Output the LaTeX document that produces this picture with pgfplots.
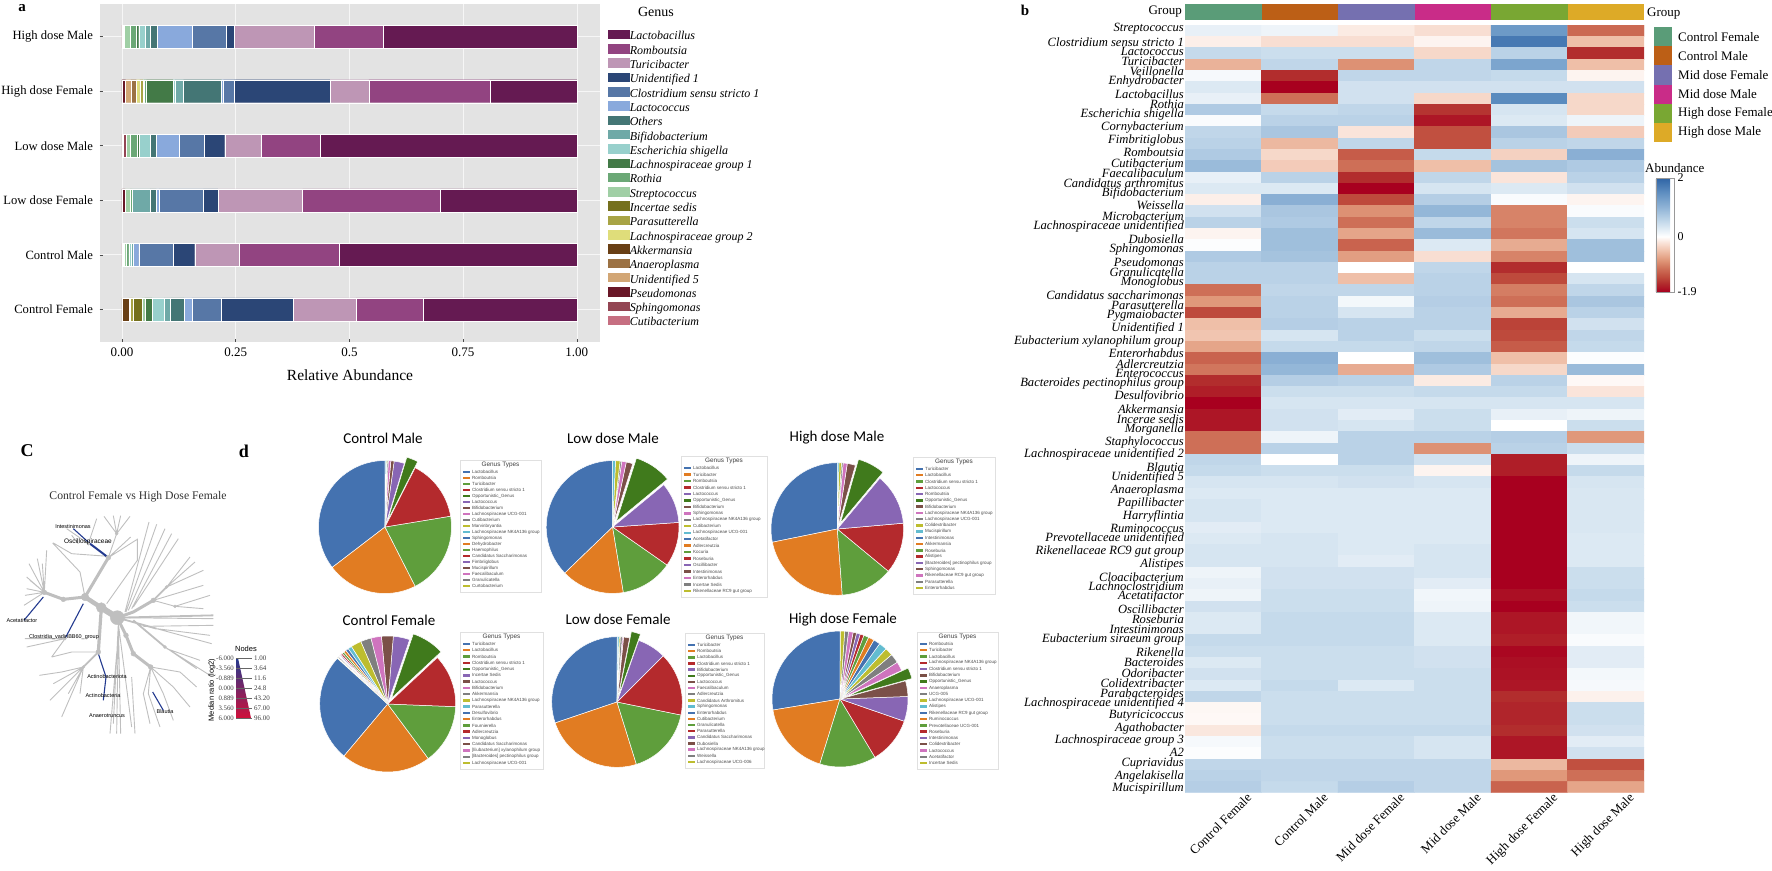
\documentclass[border=0pt]{standalone}
\usepackage{fontspec}
\setmainfont{Liberation Serif}
\newfontfamily\sansf{Liberation Sans}
\newfontfamily\calf{Carlito}
\usepackage{pgfplots}
\usepackage{pgfplotstable}
\pgfplotsset{compat=1.18}
\newcommand\fs[1]{\fontsize{#1}{#1}\selectfont}
\newcommand\N[4][]{\node[inner sep=0pt,#1] at (#2pt,-#3pt) {#4};}
% panel a colours
\definecolor{cLtb}{HTML}{651A52}\definecolor{cRom}{HTML}{924481}\definecolor{cTur}{HTML}{BE96B5}
\definecolor{cUn1}{HTML}{2B4676}\definecolor{cClo}{HTML}{5777A6}\definecolor{cLcc}{HTML}{89A9DC}
\definecolor{cOth}{HTML}{447675}\definecolor{cBif}{HTML}{6FA9A7}\definecolor{cEsc}{HTML}{98D0CC}
\definecolor{cLa1}{HTML}{437A47}\definecolor{cRot}{HTML}{6BA876}\definecolor{cStr}{HTML}{A0CFA5}
\definecolor{cInc}{HTML}{75701D}\definecolor{cPar}{HTML}{A8A445}\definecolor{cLa2}{HTML}{DFDD7A}
\definecolor{cAkk}{HTML}{693F15}\definecolor{cAna}{HTML}{9C7244}\definecolor{cUn5}{HTML}{D2A675}
\definecolor{cPse}{HTML}{691727}\definecolor{cSph}{HTML}{934553}\definecolor{cCut}{HTML}{C66F81}
% group colours
\definecolor{g1}{HTML}{5A9C78}\definecolor{g2}{HTML}{BC5F16}\definecolor{g3}{HTML}{7570B0}
\definecolor{g4}{HTML}{C92C88}\definecolor{g5}{HTML}{79A733}\definecolor{g6}{HTML}{DDAA27}
% pie colours
\definecolor{tA}{HTML}{4472B0}\definecolor{tB}{HTML}{E17C22}\definecolor{tC}{HTML}{5F9E3C}
\definecolor{tD}{HTML}{B42A2D}\definecolor{tE}{HTML}{8866B4}\definecolor{tF}{HTML}{7B5048}
\definecolor{tG}{HTML}{CF74BE}\definecolor{tH}{HTML}{7F7F7F}\definecolor{tI}{HTML}{BDBD2F}
\definecolor{tJ}{HTML}{62BCD0}\definecolor{dg}{HTML}{407A1C}
\definecolor{trg}{HTML}{BFBFBF}\definecolor{trb}{HTML}{233A8F}\definecolor{wr}{HTML}{D0103A}

\pgfplotstableread{
pos Cut Sph Pse Un5 Ana Akk La2 Par Inc Str Rot La1 Esc Bif Oth Lcc Clo Un1 Tur Rom Ltb
0 0 0 0 0 .001 .014 .002 .008 .019 .006 0 .016 .027 .014 .029 .018 .065 .158 .138 .148 .337
1 .003 0 0 .002 0 0 0 0 0 .004 .006 .001 .004 .005 0 .012 .075 .048 .097 .221 .522
2 0 0 .007 0 0 0 0 0 0 .011 .004 0 0 .04 .014 .006 .097 .032 .186 .303 .30
3 .003 .007 0 0 0 0 0 0 0 .009 .014 .005 .024 0 .014 .05 .055 .045 .079 .131 .564
4 0 0 .008 .012 .012 0 .007 .007 0 .003 .005 .058 .005 .018 .084 .004 .024 .21 .086 .266 .191
5 .001 0 0 .002 0 0 .001 0 0 .015 .012 .006 .014 .012 .015 .076 .076 .016 .176 .153 .425
}\barsA

\newcommand\SA[2]{\addplot[fill=#2,draw=white,line width=.2pt] table[x=#1,y=pos] {\barsA};}

% one pie: cx cy r startangle list(value%/colour/explode)
\newcommand{\PIE}[5]{%
\begin{axis}[at={(#1pt,-#2pt)},anchor=center,scale only axis,width=2.6*#3pt,height=2.6*#3pt,
  hide axis,xmin=-1.3,xmax=1.3,ymin=-1.3,ymax=1.3,clip=false]
\xdef\curang{#4}%
\foreach \pv/\pc/\pe in {#5}{%
  \pgfmathsetmacro\pend{\curang+3.6*\pv}%
  \pgfmathsetmacro\pmid{(\curang+\pend)/2}%
  \pgfmathsetmacro\ppx{\pe*0.1*cos(\pmid)}%
  \pgfmathsetmacro\ppy{\pe*0.1*sin(\pmid)}%
  \xdef\pts{(\ppx,\ppy)}%
  \pgfmathtruncatemacro\nseg{max(1,ceil(3.6*\pv/4))}%
  \foreach \pk in {0,...,\nseg}{%
    \pgfmathsetmacro\pang{\curang+(\pend-\curang)*\pk/\nseg}%
    \pgfmathsetmacro\qx{\ppx+cos(\pang)}%
    \pgfmathsetmacro\qy{\ppy+sin(\pang)}%
    \xdef\pts{\pts(\qx,\qy)}%
  }%
  \edef\temp{\noexpand\addplot[fill=\pc,draw=white,line width=0.5pt,forget plot] coordinates {\pts(\ppx,\ppy)};}\temp
  \xdef\curang{\pend}%
}
\end{axis}}

% pie legend key box
\newcommand{\LEG}[5]{%
\draw[black!12,fill=white,line width=.5pt] (#1pt,-#2pt) rectangle ++(#3pt,-#4pt);
\pgfmathsetmacro\lcx{#1+#3/2}\pgfmathsetmacro\lty{#2+5}
\node[inner sep=0pt,font=\sansf\fs{6.4},text=black!75] at (\lcx pt,-\lty pt) {Genus Types};
\pgfmathsetmacro\lstep{(#4-18)/19}
\foreach \lc/\ln [count=\li from 0] in {#5}{%
  \pgfmathsetmacro\ly{#2+12+\li*\lstep}%
  \pgfmathsetmacro\lxa{#1+2.5}\pgfmathsetmacro\lxb{#1+9.5}\pgfmathsetmacro\lxc{#1+12}%
  \fill[\lc] (\lxa pt,-\ly pt-1.2pt) rectangle (\lxb pt,-\ly pt+1.2pt);
  \node[anchor=west,inner sep=0pt,font=\sansf\fs{4.5},text=black!70] at (\lxc pt,-\ly pt) {\ln};
}}

\begin{document}
\begin{tikzpicture}
\path[use as bounding box] (0pt,0pt) rectangle (1772pt,-870pt);

%%%%%%%%%%%%%%%% panel a
\begin{axis}[at={(99.6pt,-4pt)},anchor=north west,scale only axis,width=500pt,height=338pt,
  xbar stacked,bar width=23pt,
  xmin=-0.049,xmax=1.05,ymin=-0.6,ymax=5.6,
  axis line style={draw=none},axis background/.style={fill=black!11},
  grid=major,grid style={white!40!black!6,line width=.6pt},
  tick style={black!70,line width=.5pt},
  major tick length=3pt,tick pos=left,
  xtick={0,.25,.5,.75,1},xticklabels={0.00,0.25,0.5,0.75,1.00},
  ytick={0,1,2,3,4,5},
  yticklabels={Control Female,Control Male,Low dose Female,Low dose Male,High dose Female,High dose Male},
  xticklabel style={font=\fs{13},yshift=-2pt},
  yticklabel style={font=\fs{12.6},xshift=-3pt},
  reverse legend,
  legend image code/.code={\path[#1] (0pt,-2.5pt) rectangle (23pt,8pt);},
  legend cell align=left,
  legend style={at={(1.014,0.9265)},anchor=north west,draw=none,fill=none,
    font=\fs{12}\itshape,inner sep=0pt,outer sep=0pt,
    nodes={inner sep=0pt,text height=9pt,text depth=3pt},row sep=0.2pt,
    /tikz/every even column/.append style={column sep=2pt}},
]
\SA{Cut}{cCut}\SA{Sph}{cSph}\SA{Pse}{cPse}\SA{Un5}{cUn5}\SA{Ana}{cAna}\SA{Akk}{cAkk}\SA{La2}{cLa2}
\SA{Par}{cPar}\SA{Inc}{cInc}\SA{Str}{cStr}\SA{Rot}{cRot}\SA{La1}{cLa1}\SA{Esc}{cEsc}\SA{Bif}{cBif}
\SA{Oth}{cOth}\SA{Lcc}{cLcc}\SA{Clo}{cClo}\SA{Un1}{cUn1}\SA{Tur}{cTur}\SA{Rom}{cRom}\SA{Ltb}{cLtb}
\legend{Cutibacterium,Sphingomonas,Pseudomonas,Unidentified 5,Anaeroplasma,Akkermansia,Lachnospiraceae group 2,Parasutterella,Incertae sedis,Streptococcus,Rothia,Lachnospiraceae group 1,Escherichia shigella,Bifidobacterium,Others,Lactococcus,Clostridium sensu stricto 1,Unidentified 1,Turicibacter,Romboutsia,Lactobacillus}
\end{axis}
\N{22}{8}{\fs{15}\bfseries a}
\N{656}{12}{\fs{14}Genus}
\N{350}{375}{\fs{15.5}Relative Abundance}

%%%%%%%%%%%%%%%% panel b: group strip
\begin{axis}[at={(1185pt,-4pt)},anchor=north west,scale only axis,width=459pt,height=16pt,
  hide axis,xmin=0,xmax=6,ymin=0,ymax=1]
\addplot[fill=g1,draw=none] coordinates {(0,0)(1,0)(1,1)(0,1)};
\addplot[fill=g2,draw=none] coordinates {(1,0)(2,0)(2,1)(1,1)};
\addplot[fill=g3,draw=none] coordinates {(2,0)(3,0)(3,1)(2,1)};
\addplot[fill=g4,draw=none] coordinates {(3,0)(4,0)(4,1)(3,1)};
\addplot[fill=g5,draw=none] coordinates {(4,0)(5,0)(5,1)(4,1)};
\addplot[fill=g6,draw=none] coordinates {(5,0)(6,0)(6,1)(5,1)};
\end{axis}
\N[anchor=east]{1182}{12}{\fs{13}Group}
\N[anchor=west]{1647}{14}{\fs{13}Group}
\N{1025}{10}{\fs{15}\bfseries b}

%%%%%%%%%%%%%%%% panel b: heatmap
\begin{axis}[at={(1185pt,-25pt)},anchor=north west,scale only axis,width=459pt,height=767.7pt,
  xmin=-.5,xmax=5.5,ymin=.5,ymax=68.5,y dir=reverse,
  axis line style={draw=none},major tick length=0pt,
  enlargelimits=false,
  xtick={0,1,2,3,4,5},
  xticklabels={Control Female,Control Male,Mid dose Female,Mid dose Male,High dose Female,High dose Male},
  xticklabel style={font=\fs{13},rotate=45,anchor=north east,xshift=20pt,yshift=-12pt},
  ytick={.85,1.98,2.80,3.72,4.60,5.52,6.64,7.52,8.45,9.56,10.69,11.81,12.72,13.61,14.53,15.44,16.50,17.44,18.37,19.45,20.37,21.50,22.41,23.33,24.44,25.36,26.25,27.36,28.52,29.61,30.53,31.35,32.24,33.39,34.51,35.42,36.31,37.44,38.53,39.66,40.56,41.71,42.84,43.99,45.08,46.00,47.12,48.24,49.37,50.25,51.14,52.23,53.14,54.02,54.94,56.06,56.95,57.87,58.78,59.67,60.58,61.64,62.79,63.89,64.95,65.89,67.02,68.14},
  yticklabels={Streptococcus,Clostridium sensu stricto 1,Lactococcus,Turicibacter,Veillonella,Enhydrobacter,Lactobacillus,Rothia,Escherichia shigella,Cornybacterium,Fimbritiglobus,Romboutsia,Cutibacterium,Faecalibaculum,Candidatus arthromitus,Bifidobacterium,Weissella,Microbacterium,Lachnospiraceae unidentified,Dubosiella,Sphingomonas,Pseudomonas,Granulicatella,Monoglobus,Candidatus saccharimonas,Parasutterella,Pygmaiobacter,Unidentified 1,Eubacterium xylanophilum group,Enterorhabdus,Adlercreutzia,Enterococcus,Bacteroides pectinophilus group,Desulfovibrio,Akkermansia,Incerae sedis,Morganella,Staphylococcus,Lachnospiraceae unidentified 2,Blautia,Unidentified 5,Anaeroplasma,Papillibacter,Harryflintia,Ruminococcus,Prevotellaceae unidentified,Rikenellaceae RC9 gut group,Alistipes,Cloacibacterium,Lachnoclostridium,Acetatifactor,Oscillibacter,Roseburia,Intestinimonas,Eubacterium siraeum group,Rikenella,Bacteroides,Odoribacter,Colidextribacter,Parabacteroides,Lachnospiraceae unidentified 4,Butyricicoccus,Agathobacter,Lachnospiraceae group 3,A2,Cupriavidus,Angelakisella,Mucispirillum},
  yticklabel style={font=\fs{12.6}\itshape,inner sep=1pt},
  point meta min=-1.9,point meta max=2,
  colormap={rb}{rgb255(0pt)=(168,0,31) rgb255(3pt)=(178,45,45) rgb255(5pt)=(190,74,60) rgb255(8pt)=(206,111,87) rgb255(11pt)=(224,152,122) rgb255(14pt)=(239,191,168) rgb255(17pt)=(250,228,218) rgb255(19pt)=(255,255,255) rgb255(24pt)=(197,218,235) rgb255(29pt)=(143,179,214) rgb255(34pt)=(95,143,193) rgb255(39pt)=(47,100,165)},
  colorbar,
  colorbar style={at={(1.0261,0.8007)},anchor=north west,width=18pt,height=114pt,
    ytick={-1.9,0,2},yticklabels={-1.9,0,2},
    ticklabel style={font=\fs{12}},tick style={draw=none},axis line style={black!40,line width=.6pt},
    yticklabel pos=right},
]
\addplot[matrix plot*,mesh/cols=6,point meta=explicit] coordinates {
(0,1)[.2](1,1)[.15](2,1)[-.15](3,1)[-.25](4,1)[1.35](5,1)[-1.15]
(0,2)[-.12](1,2)[-.25](2,2)[-.25](3,2)[-.08](4,2)[1.75](5,2)[-.5]
(0,3)[.5](1,3)[.45](2,3)[.45](3,3)[-.3](4,3)[.6](5,3)[-1.6]
(0,4)[-.6](1,4)[.55](2,4)[-.85](3,4)[.55](4,4)[1.2](5,4)[-.5]
(0,5)[.08](1,5)[-1.6](2,5)[.55](3,5)[.55](4,5)[.5](5,5)[-.08]
(0,6)[.3](1,6)[-1.9](2,6)[.4](3,6)[.4](4,6)[.4](5,6)[.4]
(0,7)[.2](1,7)[-1.1](2,7)[.4](3,7)[-.3](4,7)[1.55](5,7)[-.3]
(0,8)[.7](1,8)[.5](2,8)[.55](3,8)[-1.55](4,8)[.35](5,8)[-.3]
(0,9)[.05](1,9)[.6](2,9)[.6](3,9)[-1.75](4,9)[.3](5,9)[.15]
(0,10)[.55](1,10)[.75](2,10)[-.2](3,10)[-1.35](4,10)[.75](5,10)[-.4]
(0,11)[.6](1,11)[-.55](2,11)[.55](3,11)[-1.35](4,11)[.6](5,11)[.55]
(0,12)[.7](1,12)[-.3](2,12)[-1.25](3,12)[.5](4,12)[-.35](5,12)[1.05]
(0,13)[.9](1,13)[-.4](2,13)[-1.1](3,13)[-.5](4,13)[.8](5,13)[.7]
(0,14)[.2](1,14)[.6](2,14)[-1.6](3,14)[.55](4,14)[-.2](5,14)[.6]
(0,15)[.3](1,15)[.3](2,15)[-1.9](3,15)[.35](4,15)[.3](5,15)[.4]
(0,16)[-.12](1,16)[1.05](2,16)[-1.4](3,16)[.65](4,16)[.05](5,16)[-.08]
(0,17)[.4](1,17)[.75](2,17)[-.85](3,17)[.95](4,17)[-.95](5,17)[.05]
(0,18)[.6](1,18)[.7](2,18)[-1.1](3,18)[.55](4,18)[-.95](5,18)[.45]
(0,19)[-.08](1,19)[.85](2,19)[-.7](3,19)[.9](4,19)[-1.05](5,19)[.35]
(0,20)[.03](1,20)[.85](2,20)[-1.2](3,20)[.3](4,20)[-.65](5,20)[.85]
(0,21)[.7](1,21)[.8](2,21)[-.75](3,21)[-.25](4,21)[-.95](5,21)[.85]
(0,22)[.6](1,22)[.6](2,22)[0](3,22)[.55](4,22)[-1.6](5,22)[0]
(0,23)[.6](1,23)[.6](2,23)[-.5](3,23)[.6](4,23)[-1.4](5,23)[.35]
(0,24)[-1.1](1,24)[.55](2,24)[.55](3,24)[.6](4,24)[-1](5,24)[.55]
(0,25)[-.8](1,25)[.6](2,25)[.1](3,25)[.65](4,25)[-1.1](5,25)[.75]
(0,26)[-1.4](1,26)[.6](2,26)[.35](3,26)[.6](4,26)[-.65](5,26)[.6]
(0,27)[-.5](1,27)[.65](2,27)[.6](3,27)[.6](4,27)[-1.45](5,27)[.4]
(0,28)[-.45](1,28)[.35](2,28)[.6](3,28)[.45](4,28)[-1.4](5,28)[.55]
(0,29)[-.7](1,29)[.5](2,29)[.5](3,29)[.55](4,29)[-1.25](5,29)[.5]
(0,30)[-1.2](1,30)[1.05](2,30)[0](3,30)[.85](4,30)[-.5](5,30)[.03]
(0,31)[-1.05](1,31)[.95](2,31)[-.65](3,31)[.7](4,31)[-.3](5,31)[.9]
(0,32)[-1.6](1,32)[.65](2,32)[.6](3,32)[-.15](4,32)[.6](5,32)[-.05]
(0,33)[-1.7](1,33)[.45](2,33)[.45](3,33)[.5](4,33)[.5](5,33)[-.2]
(0,34)[-1.9](1,34)[.35](2,34)[.35](3,34)[.35](4,34)[.35](5,34)[.35]
(0,35)[-1.75](1,35)[.4](2,35)[.25](3,35)[.45](4,35)[.2](5,35)[.15]
(0,36)[-1.75](1,36)[.4](2,36)[.35](3,36)[.45](4,36)[0](5,36)[.45]
(0,37)[-1.1](1,37)[.15](2,37)[.6](3,37)[.6](4,37)[.65](5,37)[-.8]
(0,38)[-1.1](1,38)[.6](2,38)[.6](3,38)[-.85](4,38)[.6](5,38)[.45]
(0,39)[.55](1,39)[0](2,39)[.6](3,39)[.4](4,39)[-1.7](5,39)[.15]
(0,40)[.5](1,40)[.45](2,40)[.45](3,40)[-.08](4,40)[-1.7](5,40)[.5]
(0,41)[.35](1,41)[.35](2,41)[.4](3,41)[.35](4,41)[-1.9](5,41)[.35]
(0,42)[.3](1,42)[.3](2,42)[.3](3,42)[.3](4,42)[-1.9](5,42)[.33]
(0,43)[.35](1,43)[.3](2,43)[.3](3,43)[.3](4,43)[-1.9](5,43)[.33]
(0,44)[.35](1,44)[.3](2,44)[.3](3,44)[.3](4,44)[-1.9](5,44)[.33]
(0,45)[.25](1,45)[.3](2,45)[.3](3,45)[.3](4,45)[-1.9](5,45)[.33]
(0,46)[.3](1,46)[.35](2,46)[.3](3,46)[.3](4,46)[-1.9](5,46)[.3]
(0,47)[.35](1,47)[.35](2,47)[.3](3,47)[.35](4,47)[-1.9](5,47)[.3]
(0,48)[.35](1,48)[.35](2,48)[.25](3,48)[.35](4,48)[-1.9](5,48)[.3]
(0,49)[.15](1,49)[.4](2,49)[.4](3,49)[.35](4,49)[-1.9](5,49)[.45]
(0,50)[.2](1,50)[.4](2,50)[.4](3,50)[.25](4,50)[-1.9](5,50)[.45]
(0,51)[.15](1,51)[.45](2,51)[.45](3,51)[.12](4,51)[-1.8](5,51)[.5]
(0,52)[.4](1,52)[.45](2,52)[.45](3,52)[.15](4,52)[-1.9](5,52)[.45]
(0,53)[.3](1,53)[.5](2,53)[.5](3,53)[.3](4,53)[-1.75](5,53)[.12]
(0,54)[.3](1,54)[.5](2,54)[.5](3,54)[.3](4,54)[-1.75](5,54)[.12]
(0,55)[.5](1,55)[.5](2,55)[.5](3,55)[.3](4,55)[-1.7](5,55)[.05]
(0,56)[.45](1,56)[.45](2,56)[.45](3,56)[.4](4,56)[-1.85](5,56)[.25]
(0,57)[.3](1,57)[.45](2,57)[.45](3,57)[.4](4,57)[-1.8](5,57)[.25]
(0,58)[.4](1,58)[.45](2,58)[.45](3,58)[.45](4,58)[-1.78](5,58)[.1]
(0,59)[.3](1,59)[.5](2,59)[.3](3,59)[.45](4,59)[-1.75](5,59)[.08]
(0,60)[.55](1,60)[.45](2,60)[.45](3,60)[.45](4,60)[-1.6](5,60)[-.1]
(0,61)[-.06](1,61)[.45](2,61)[.45](3,61)[.45](4,61)[-1.65](5,61)[.45]
(0,62)[-.05](1,62)[.45](2,62)[.45](3,62)[.45](4,62)[-1.65](5,62)[.45]
(0,63)[-.18](1,63)[.5](2,63)[.5](3,63)[.5](4,63)[-1.6](5,63)[.4]
(0,64)[.08](1,64)[.45](2,64)[.45](3,64)[.35](4,64)[-1.75](5,64)[.25]
(0,65)[.03](1,65)[.45](2,65)[.45](3,65)[.35](4,65)[-1.75](5,65)[.4]
(0,66)[.55](1,66)[.55](2,66)[.55](3,66)[.55](4,66)[-.55](5,66)[-1.35]
(0,67)[.6](1,67)[.55](2,67)[.55](3,67)[.55](4,67)[-.8](5,67)[-1.1]
(0,68)[.65](1,68)[.5](2,68)[.65](3,68)[.55](4,68)[-1.2](5,68)[-.7]
};
\end{axis}
% group key
\foreach \gc/\gn [count=\gi from 0] in {g1/Control Female,g2/Control Male,g3/Mid dose Female,g4/Mid dose Male,g5/High dose Female,g6/High dose Male}{%
  \pgfmathsetmacro\gy{27+\gi*19.2}\pgfmathsetmacro\gyy{\gy+19.2}\pgfmathsetmacro\gt{\gy+9.6}%
  \fill[\gc] (1654pt,-\gy pt) rectangle (1672pt,-\gyy pt);
  \node[anchor=west,inner sep=0pt,font=\fs{13}] at (1678pt,-\gt pt) {\gn};
}
\N[anchor=west]{1645}{168}{\fs{13}Abundance}

%%%%%%%%%%%%%%%% panel c tree
\N{27}{451}{\fs{18}\bfseries C}
\N{138}{497}{\fs{11.7}\color{black!80}Control Female vs High Dose Female}
\begin{axis}[at={(0pt,-487pt)},anchor=north west,scale only axis,width=280pt,height=266.67pt,
  hide axis,xmin=0,xmax=840,ymin=-100,ymax=700,y dir=reverse,clip=false,unbounded coords=jump]
% thick trunks
\addplot[trg,line width=6pt,forget plot] coordinates {(352,292)(304,262)};
\addplot[trg,line width=4.5pt,forget plot] coordinates {(304,262)(255,230)};
\addplot[trg,line width=3.2pt,forget plot] coordinates {(304,262)(295,395)};
\addplot[trg,line width=3pt,forget plot] coordinates {(255,230)(325,112) (nan,nan) (255,230)(190,237)(133,216) (nan,nan) (352,292)(378,345)(400,400)(452,440) (nan,nan) (352,292)(400,275)(460,240)};
\addplot[trg,line width=1.8pt,forget plot] coordinates {(295,395)(250,440) (nan,nan) (460,240)(500,200) (nan,nan) (352,292)(640,285) (nan,nan) (352,292)(470,325) (nan,nan) (400,300)(495,380)};
\addplot[trg,line width=.9pt,forget plot] coordinates {
(325,112)(350,40)(312,-12)(nan,nan)(350,40)(340,-14)(nan,nan)(350,40)(362,-14)(nan,nan)(350,40)(390,-12)(nan,nan)
(325,112)(392,50)(nan,nan)(325,112)(410,58)(nan,nan)(290,-5)(265,70)(200,25)(nan,nan)(215,45)(235,70)(nan,nan)(160,68)(215,100)(325,108)(nan,nan)
(255,230)(240,155)(158,68)(nan,nan)(320,250)(412,120)(412,55)(nan,nan)
(375,275)(447,5)(nan,nan)(378,275)(470,12)(nan,nan)(385,270)(495,25)(nan,nan)(395,265)(515,40)(nan,nan)(400,260)(535,55)(nan,nan)
(500,200)(570,110)(nan,nan)(500,200)(585,125)(nan,nan)(500,200)(610,150)(nan,nan)(460,240)(610,195)(nan,nan)(460,240)(525,258)(630,225)(nan,nan)(525,258)(610,265)(nan,nan)
(352,292)(640,295)(nan,nan)(430,318)(640,315)(nan,nan)(470,325)(635,370)(nan,nan)(470,325)(630,345)(nan,nan)(495,380)(630,465)(nan,nan)(495,380)(590,445)(nan,nan)(500,385)(600,420)(nan,nan)
(452,440)(540,455)(590,500)(nan,nan)(452,440)(520,500)(570,560)(nan,nan)(452,440)(490,520)(520,600)(nan,nan)(452,440)(430,520)(450,610)(nan,nan)(452,440)(445,520)(480,620)(nan,nan)
(133,216)(140,90)(nan,nan)(133,216)(127,130)(nan,nan)(133,216)(112,115)(nan,nan)(133,216)(87,130)(nan,nan)(133,216)(80,170)(nan,nan)(133,216)(90,180)(nan,nan)(133,216)(75,225)(nan,nan)(133,216)(72,255)(nan,nan)(133,216)(80,205)(nan,nan)
(195,355)(155,410)(nan,nan)(195,355)(75,355)(nan,nan)(195,355)(80,380)(nan,nan)
(295,395)(215,395)(155,410)(nan,nan)(250,440)(185,455)(118,465)(nan,nan)(250,440)(160,490)(nan,nan)(250,440)(205,520)(nan,nan)(250,440)(240,520)(nan,nan)(250,440)(150,540)(nan,nan)(250,440)(185,590)(nan,nan)
(355,310)(340,610)(nan,nan)(355,310)(350,640)(nan,nan)(355,310)(362,640)(nan,nan)(355,310)(395,620)(nan,nan)(350,400)(330,640)(nan,nan)(395,470)(405,640)(nan,nan)
};
% tree nodes
\addplot[only marks,mark=*,mark size=7pt,trg,forget plot] coordinates {(352,292)};
\addplot[only marks,mark=*,mark size=5pt,trg,forget plot] coordinates {(304,262)};
\addplot[only marks,mark=*,mark size=3.8pt,trg,forget plot] coordinates {(255,230)};
\addplot[only marks,mark=*,mark size=2.4pt,trg,forget plot] coordinates {(325,112)(133,216)(190,237)(295,395)(452,440)(400,400)(378,345)(460,240)};
\addplot[only marks,mark=*,mark size=1.5pt,trg,forget plot] coordinates {(500,200)(525,258)(495,380)(250,440)(350,40)(265,70)(195,355)};
% blue edges
\addplot[trb,line width=1.1pt,forget plot] coordinates {(220,25)(270,70)(nan,nan)(130,230)(72,300)(nan,nan)(250,250)(195,355)(nan,nan)(295,400)(318,470)(310,540)(nan,nan)(458,515)(490,570)};
\addplot[trb,line width=2pt,forget plot] coordinates {(270,70)(320,108)};
\end{axis}
\N{73}{527}{\sansf\fs{5.5}Intestinimonas}
\N{88}{542}{\sansf\fs{6.5}Oscillospiraceae}
\N{22}{621}{\sansf\fs{5.5}Acetatifactor}
\N{64}{637}{\sansf\fs{5.5}Clostridia\_vadinBB60\_group}
\N{107}{677}{\sansf\fs{5.5}Actinobacteriota}
\N{103}{696}{\sansf\fs{5.5}Actinobacteria}
\N{107}{716}{\sansf\fs{5.5}Anaerotruncus}
\N{165}{712}{\sansf\fs{5.5}Blautia}
% nodes legend
\N{246}{649}{\sansf\fs{7.5}Nodes}
\shade[top color=trb,middle color=black!25,bottom color=wr] (236pt,-658pt) -- (238pt,-658pt) -- (251pt,-718pt) -- (236pt,-718pt) -- cycle;
\foreach \ny/\nl/\nr in {658/-6.000/1.00,668/-3.560/3.64,678/-0.889/11.6,688/0.000/24.8,698/0.889/43.20,708/3.560/67.00,718/6.000/96.00}{%
  \draw[black!60,line width=.5pt] (236pt,-\ny pt) -- (252pt,-\ny pt);
  \node[anchor=east,inner sep=0pt,font=\fs{6.8},text=black!75] at (234pt,-\ny pt) {\nl};
  \node[anchor=west,inner sep=0pt,font=\fs{7},text=black!75] at (254pt,-\ny pt) {\nr};
}
\node[rotate=90,inner sep=0pt,font=\sansf\fs{7.5}] at (212pt,-690pt) {Median ratio (log2)};

%%%%%%%%%%%%%%%% panel d pies
\N{244}{451}{\fs{18}\bfseries d}
\N{383}{438}{\calf\fs{15}Control Male}
\N{613}{438}{\calf\fs{15}Low dose Male}
\N{837}{438}{\calf\fs{15}High dose Male}
\N{389}{620}{\calf\fs{15}Control Female}
\N{618}{619}{\calf\fs{15}Low dose Female}
\N{843}{620}{\calf\fs{15}High dose Female}

\PIE{385}{527}{66.5}{90}{35.4/tA/0,22.1/tB/0,20.1/tC/0,14.9/tD/0,2.8/dg/1,2.5/tE/0,.8/tF/0,.6/tG/0,.3/tH/0,.2/tI/0,.3/tJ/0}
\PIE{612.6}{527}{66.4}{90}{37.2/tA/0,15.4/tB/0,12.7/tC/0,10.8/tD/0,9.9/tE/0,9.1/dg/1,1.6/tF/0,1.1/tG/0,.4/tH/0,1.1/tI/0,.7/tJ/0}
\PIE{837.3}{529}{66.3}{90}{28.2/tA/0,23/tB/0,12.8/tC/0,12.4/tD/0,12.5/tE/0,6.7/dg/1,2/tF/0,1/tG/0,.4/tH/0,.6/tI/0,.4/tJ/0}
\PIE{387.7}{704}{68}{136}{26.1/tA/0,21.3/tB/0,14.2/tC/0,12.6/tD/0,7.8/dg/1,3.9/tE/0,2.8/tF/0,2.5/tG/0,2.5/tH/0,2.5/tI/0,.9/tJ/0,.7/tA/0,.6/tB/0,.5/tC/0,.4/tD/0,.3/tE/0,.2/tF/0,.2/tG/0,.3/tH/0,.2/tI/0}
\PIE{617}{702}{65.3}{90}{30.2/tA/0,24.6/tB/0,17/tC/0,15.7/tD/0,7.1/tE/0,2.3/dg/1,1.5/tF/0,.3/tG/0,.5/tH/0,.3/tI/0,.4/tJ/0}
\PIE{840}{699}{68}{90}{27.6/tA/0,17.6/tB/0,13.4/tC/0,11.1/tD/0,5.9/tE/0,3.7/tF/0,2.6/dg/1,2.2/tG/0,2.2/tH/0,1.9/tI/0,1.9/tJ/0,1.6/tA/0,1.4/tB/0,1.2/tC/0,.9/tD/0,.9/tE/0,.8/tF/0,1.1/tG/0,.9/tH/0,1/tI/0}

\LEG{460}{460}{81}{132}{tA/Lactobacillus,tB/Romboutsia,tC/Turicibacter,tD/Clostridium sensu stricto 1,dg/Opportunistic\_Genus,tE/Lactococcus,tF/Bifidobacterium,tG/Lachnospiraceae UCG-001,tH/Cutibacterium,tI/Marvinbryantia,tJ/Lachnospiraceae NK4A136 group,tA/Sphingomonas,tB/Dehydrobacter,tC/Haemophilus,tD/Candidatus Saccharimonas,tE/Fimbriiglobus,tF/Mucispirillum,tG/Faecalibaculum,tH/Granulicatella,tI/Curtobacterium}
\LEG{681}{456}{86}{141}{tA/Lactobacillus,tB/Turicibacter,tC/Romboutsia,tD/Clostridium sensu stricto 1,tE/Lactococcus,dg/Opportunistic\_Genus,tF/Bifidobacterium,tG/Sphingomonas,tH/Lachnospiraceae NK4A136 group,tI/Cutibacterium,tJ/Lachnospiraceae UCG-001,tA/Acetatifactor,tB/Adlercreutzia,tC/Kocuria,tD/Roseburia,tE/Oscillibacter,tF/Intestinimonas,tG/Enterorhabdus,tH/Incertae Sedis,tI/Rikenellaceae RC9 gut group}
\LEG{913}{457}{82}{137}{tA/Turicibacter,tB/Lactobacillus,tC/Clostridium sensu stricto 1,tD/Lactococcus,tE/Romboutsia,dg/Opportunistic\_Genus,tF/Bifidobacterium,tG/Lachnospiraceae NK4A136 group,tH/Lachnospiraceae UCG-001,tI/Colidextribacter,tJ/Mucispirillum,tA/Intestinimonas,tB/Akkermansia,tC/Roseburia,tD/Alistipes,tE/{[Bacteroides]} pectinophilus group,tF/Sphingomonas,tG/Rikenellaceae RC9 gut group,tH/Parasutterella,tI/Enterorhabdus}
\LEG{460}{632}{83}{137}{tA/Turicibacter,tB/Lactobacillus,tC/Romboutsia,tD/Clostridium sensu stricto 1,dg/Opportunistic\_Genus,tE/Incertae Sedis,tF/Lactococcus,tG/Bifidobacterium,tH/Akkermansia,tI/Lachnospiraceae NK4A136 group,tJ/Parasutterella,tA/Desulfovibrio,tB/Enterorhabdus,tC/Fournierella,tD/Adlercreutzia,tE/Monoglobus,tF/Candidatus Saccharimonas,tG/{[Eubacterium]} xylanophilum group,tH/{[Bacteroides]} pectinophilus group,tI/Lachnospiraceae UCG-001}
\LEG{685}{633}{79}{135}{tA/Turicibacter,tB/Romboutsia,tC/Lactobacillus,tD/Clostridium sensu stricto 1,tE/Bifidobacterium,dg/Opportunistic\_Genus,tF/Lactococcus,tG/Faecalibaculum,tH/Adlercreutzia,tI/Candidatus Arthromitus,tJ/Sphingomonas,tA/Enterorhabdus,tB/Cutibacterium,tC/Granulicatella,tD/Parasutterella,tE/Candidatus Saccharimonas,tF/Dubosiella,tG/Lachnospiraceae NK4A136 group,tH/Weissella,tI/Lachnospiraceae UCG-006}
\LEG{917}{632}{81}{137}{tA/Romboutsia,tB/Turicibacter,tC/Lactobacillus,tD/Lachnospiraceae NK4A136 group,tE/Clostridium sensu stricto 1,tF/Bifidobacterium,dg/Opportunistic\_Genus,tG/Anaeroplasma,tH/UCG-005,tI/Lachnospiraceae UCG-001,tJ/Alistipes,tA/Rikenellaceae RC9 gut group,tB/Ruminococcus,tC/Prevotellaceae UCG-001,tD/Roseburia,tE/Intestinimonas,tF/Colidextribacter,tG/Lactococcus,tH/Acetatifactor,tI/Incertae Sedis}
\end{tikzpicture}
\end{document}
